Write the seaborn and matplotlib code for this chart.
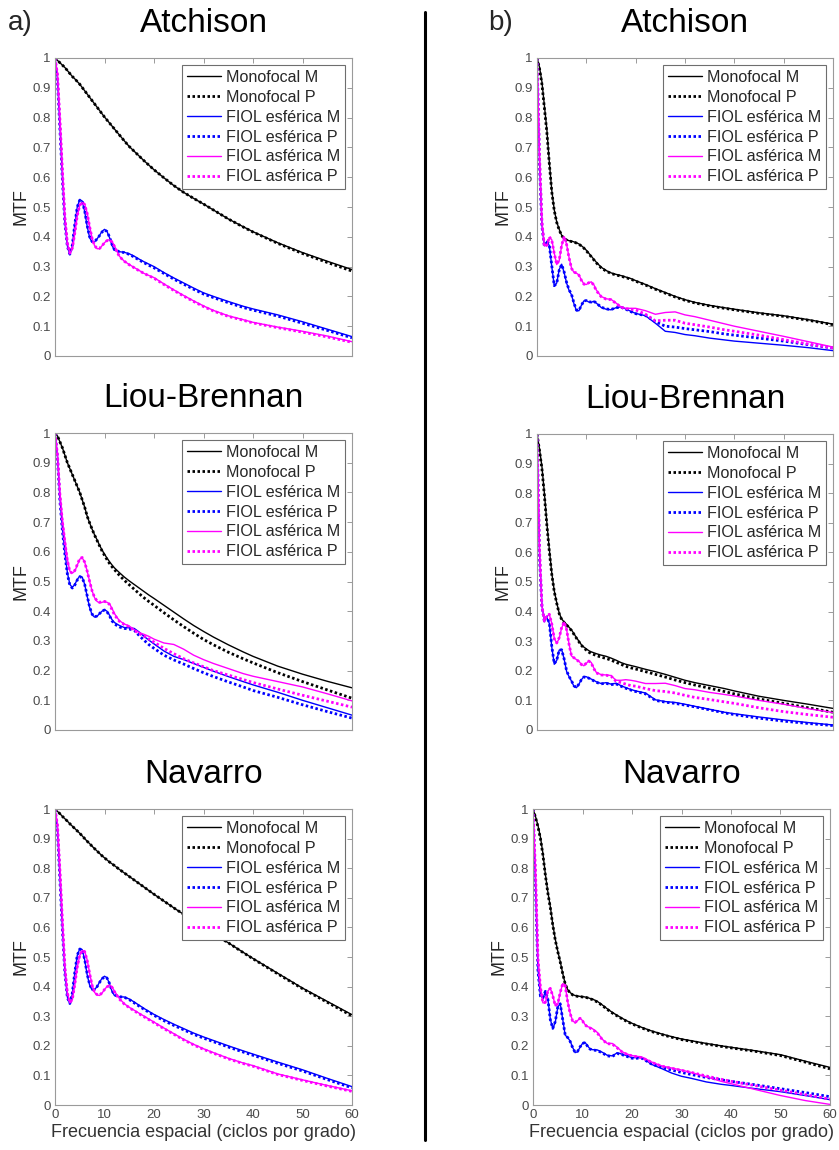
import numpy as np
import matplotlib
matplotlib.use("Agg")
import matplotlib.pyplot as plt
from matplotlib.lines import Line2D
from matplotlib.ticker import FuncFormatter
import seaborn as sns

# Spatial frequency samples (cycles per degree)
freq = [0, 0.5, 1, 1.5, 2, 2.5, 3, 3.5, 4, 4.5, 5,
        5.5, 6, 6.5, 7, 7.5, 8, 8.5, 9, 9.5, 10, 10.5, 11, 11.5,
        12, 13, 14, 15, 16, 17, 18, 19, 20,
        22, 24, 26, 28, 30, 32, 35, 38, 40, 45, 50, 55, 60]

series_labels = ["Monofocal M", "Monofocal P", "FIOL esférica M",
                 "FIOL esférica P", "FIOL asférica M", "FIOL asférica P"]

# ---------------- a) Atchison ----------------
atch_a_mono_m = [1.000, 0.992, 0.984, 0.976, 0.968, 0.958, 0.948, 0.938, 0.930, 0.921, 0.912,
                 0.901, 0.890, 0.879, 0.868, 0.857, 0.846, 0.835, 0.824, 0.813, 0.802, 0.792, 0.782, 0.772,
                 0.762, 0.742, 0.722, 0.703, 0.687, 0.671, 0.655, 0.640, 0.625,
                 0.598, 0.572, 0.549, 0.529, 0.510, 0.490, 0.460, 0.434, 0.417, 0.380, 0.347, 0.318, 0.290]
atch_a_mono_p = [1.000, 0.992, 0.984, 0.976, 0.968, 0.958, 0.948, 0.938, 0.930, 0.921, 0.912,
                 0.901, 0.890, 0.879, 0.868, 0.857, 0.846, 0.835, 0.824, 0.813, 0.802, 0.792, 0.782, 0.772,
                 0.762, 0.742, 0.722, 0.703, 0.687, 0.671, 0.655, 0.640, 0.625,
                 0.598, 0.572, 0.549, 0.529, 0.510, 0.490, 0.460, 0.433, 0.416, 0.378, 0.344, 0.314, 0.285]
atch_a_esf_m = [1.000, 0.930, 0.770, 0.600, 0.450, 0.370, 0.340, 0.370, 0.440, 0.500, 0.525,
                0.520, 0.485, 0.435, 0.397, 0.382, 0.383, 0.393, 0.405, 0.418, 0.425, 0.418, 0.398, 0.372,
                0.355, 0.350, 0.348, 0.343, 0.335, 0.325, 0.316, 0.308, 0.300,
                0.280, 0.262, 0.245, 0.228, 0.212, 0.200, 0.183, 0.167, 0.158, 0.138, 0.115, 0.090, 0.065]
atch_a_esf_p = [1.000, 0.925, 0.760, 0.590, 0.445, 0.368, 0.342, 0.372, 0.442, 0.500, 0.523,
                0.520, 0.487, 0.438, 0.400, 0.384, 0.384, 0.393, 0.404, 0.416, 0.423, 0.418, 0.400, 0.375,
                0.357, 0.350, 0.347, 0.341, 0.332, 0.322, 0.313, 0.304, 0.296,
                0.277, 0.258, 0.241, 0.224, 0.208, 0.196, 0.179, 0.163, 0.154, 0.134, 0.110, 0.086, 0.061]
atch_a_asf_m = [1.000, 0.950, 0.800, 0.630, 0.470, 0.380, 0.345, 0.360, 0.410, 0.470, 0.505,
                0.515, 0.510, 0.480, 0.435, 0.395, 0.370, 0.360, 0.360, 0.370, 0.380, 0.388, 0.390, 0.385,
                0.370, 0.335, 0.318, 0.307, 0.297, 0.287, 0.277, 0.270, 0.263,
                0.242, 0.222, 0.203, 0.185, 0.168, 0.153, 0.135, 0.122, 0.113, 0.097, 0.083, 0.067, 0.048]
atch_a_asf_p = [1.000, 0.945, 0.790, 0.620, 0.465, 0.378, 0.345, 0.362, 0.413, 0.472, 0.506,
                0.515, 0.508, 0.478, 0.433, 0.394, 0.370, 0.361, 0.361, 0.370, 0.380, 0.387, 0.389, 0.383,
                0.368, 0.334, 0.318, 0.306, 0.296, 0.286, 0.277, 0.269, 0.261,
                0.240, 0.220, 0.201, 0.183, 0.166, 0.151, 0.133, 0.120, 0.111, 0.095, 0.080, 0.064, 0.046]

# ---------------- a) Liou-Brennan ----------------
lb_a_mono_m = [1.000, 0.990, 0.970, 0.950, 0.925, 0.900, 0.880, 0.860, 0.840, 0.820, 0.800,
               0.775, 0.750, 0.720, 0.697, 0.676, 0.657, 0.640, 0.622, 0.606, 0.592, 0.579, 0.567, 0.556,
               0.546, 0.530, 0.515, 0.502, 0.490, 0.478, 0.466, 0.454, 0.443,
               0.420, 0.397, 0.374, 0.352, 0.332, 0.313, 0.287, 0.263, 0.248, 0.215, 0.188, 0.164, 0.142]
lb_a_mono_p = [1.000, 0.990, 0.970, 0.950, 0.925, 0.900, 0.880, 0.860, 0.840, 0.820, 0.800,
               0.775, 0.750, 0.720, 0.697, 0.676, 0.656, 0.638, 0.620, 0.603, 0.588, 0.574, 0.561, 0.550,
               0.540, 0.521, 0.504, 0.489, 0.474, 0.459, 0.445, 0.432, 0.420,
               0.395, 0.371, 0.348, 0.326, 0.305, 0.287, 0.262, 0.240, 0.226, 0.193, 0.163, 0.135, 0.107]
lb_a_esf_m = [1.000, 0.920, 0.780, 0.680, 0.600, 0.530, 0.490, 0.480, 0.490, 0.507, 0.518,
              0.515, 0.490, 0.450, 0.412, 0.388, 0.380, 0.383, 0.392, 0.400, 0.405, 0.400, 0.387, 0.372,
              0.362, 0.352, 0.345, 0.344, 0.342, 0.330, 0.315, 0.302, 0.290,
              0.266, 0.248, 0.237, 0.224, 0.211, 0.198, 0.180, 0.163, 0.152, 0.127, 0.100, 0.075, 0.050]
lb_a_esf_p = [1.000, 0.915, 0.770, 0.670, 0.592, 0.525, 0.487, 0.478, 0.488, 0.505, 0.516,
              0.513, 0.490, 0.452, 0.414, 0.390, 0.381, 0.384, 0.392, 0.400, 0.404, 0.398, 0.385, 0.368,
              0.357, 0.347, 0.342, 0.340, 0.336, 0.318, 0.302, 0.287, 0.275,
              0.252, 0.236, 0.222, 0.207, 0.193, 0.180, 0.162, 0.145, 0.133, 0.110, 0.085, 0.062, 0.040]
lb_a_asf_m = [1.000, 0.930, 0.800, 0.710, 0.640, 0.575, 0.535, 0.528, 0.535, 0.555, 0.575,
              0.580, 0.565, 0.535, 0.500, 0.468, 0.445, 0.433, 0.428, 0.430, 0.432, 0.430, 0.425, 0.410,
              0.392, 0.368, 0.357, 0.350, 0.338, 0.328, 0.322, 0.315, 0.306,
              0.293, 0.288, 0.272, 0.252, 0.237, 0.224, 0.207, 0.190, 0.181, 0.163, 0.145, 0.122, 0.098]
lb_a_asf_p = [1.000, 0.925, 0.790, 0.700, 0.632, 0.570, 0.533, 0.528, 0.537, 0.557, 0.577,
              0.581, 0.565, 0.535, 0.500, 0.468, 0.446, 0.435, 0.430, 0.432, 0.433, 0.430, 0.423, 0.406,
              0.388, 0.366, 0.355, 0.348, 0.335, 0.325, 0.316, 0.306, 0.296,
              0.275, 0.257, 0.240, 0.226, 0.213, 0.200, 0.185, 0.170, 0.160, 0.138, 0.117, 0.097, 0.077]

# ---------------- a) Navarro ----------------
nav_a_mono_m = [1.000, 0.992, 0.984, 0.975, 0.967, 0.959, 0.950, 0.942, 0.934, 0.926, 0.918,
                0.909, 0.900, 0.891, 0.883, 0.874, 0.866, 0.858, 0.850, 0.842, 0.835, 0.828, 0.821, 0.815,
                0.809, 0.796, 0.784, 0.772, 0.760, 0.748, 0.736, 0.724, 0.712,
                0.689, 0.666, 0.644, 0.622, 0.600, 0.579, 0.548, 0.516, 0.495, 0.445, 0.395, 0.350, 0.305]
nav_a_mono_p = [1.000, 0.992, 0.984, 0.975, 0.967, 0.959, 0.950, 0.942, 0.934, 0.926, 0.918,
                0.909, 0.900, 0.891, 0.883, 0.874, 0.866, 0.858, 0.850, 0.842, 0.835, 0.828, 0.821, 0.815,
                0.809, 0.796, 0.784, 0.772, 0.760, 0.748, 0.736, 0.724, 0.712,
                0.689, 0.666, 0.644, 0.622, 0.600, 0.579, 0.548, 0.515, 0.494, 0.443, 0.393, 0.347, 0.301]
nav_a_esf_m = [1.000, 0.930, 0.770, 0.600, 0.450, 0.365, 0.342, 0.375, 0.445, 0.505, 0.528,
               0.525, 0.490, 0.440, 0.405, 0.388, 0.390, 0.400, 0.415, 0.428, 0.435, 0.430, 0.410, 0.385,
               0.370, 0.365, 0.365, 0.358, 0.348, 0.337, 0.326, 0.316, 0.306,
               0.289, 0.273, 0.258, 0.243, 0.230, 0.218, 0.200, 0.183, 0.172, 0.145, 0.119, 0.090, 0.062]
nav_a_esf_p = [1.000, 0.925, 0.760, 0.590, 0.445, 0.363, 0.343, 0.378, 0.448, 0.506, 0.527,
               0.524, 0.492, 0.443, 0.407, 0.390, 0.391, 0.400, 0.414, 0.426, 0.433, 0.429, 0.411, 0.387,
               0.372, 0.366, 0.364, 0.356, 0.345, 0.334, 0.323, 0.313, 0.303,
               0.285, 0.269, 0.254, 0.239, 0.226, 0.214, 0.196, 0.179, 0.168, 0.141, 0.115, 0.086, 0.058]
nav_a_asf_m = [1.000, 0.950, 0.800, 0.630, 0.470, 0.380, 0.345, 0.355, 0.405, 0.465, 0.505,
               0.522, 0.520, 0.490, 0.445, 0.405, 0.380, 0.372, 0.370, 0.378, 0.390, 0.400, 0.405, 0.400,
               0.385, 0.360, 0.342, 0.330, 0.320, 0.310, 0.300, 0.290, 0.280,
               0.260, 0.241, 0.222, 0.205, 0.190, 0.177, 0.158, 0.142, 0.133, 0.105, 0.085, 0.066, 0.048]
nav_a_asf_p = [1.000, 0.945, 0.790, 0.620, 0.465, 0.378, 0.346, 0.357, 0.408, 0.467, 0.506,
               0.522, 0.518, 0.488, 0.443, 0.404, 0.380, 0.373, 0.371, 0.379, 0.390, 0.399, 0.403, 0.398,
               0.383, 0.358, 0.341, 0.329, 0.318, 0.308, 0.298, 0.288, 0.278,
               0.258, 0.239, 0.220, 0.203, 0.188, 0.175, 0.156, 0.140, 0.131, 0.103, 0.083, 0.064, 0.046]

# ---------------- b) Atchison ----------------
atch_b_mono_m = [1.000, 0.970, 0.920, 0.840, 0.760, 0.650, 0.555, 0.490, 0.450, 0.425, 0.405,
                 0.395, 0.390, 0.387, 0.385, 0.383, 0.380, 0.376, 0.370, 0.363, 0.355, 0.345, 0.335, 0.325,
                 0.315, 0.298, 0.287, 0.279, 0.274, 0.270, 0.265, 0.260, 0.253,
                 0.240, 0.226, 0.213, 0.200, 0.189, 0.180, 0.170, 0.162, 0.157, 0.145, 0.135, 0.122, 0.107]
atch_b_mono_p = [1.000, 0.965, 0.912, 0.832, 0.750, 0.645, 0.550, 0.488, 0.448, 0.423, 0.404,
                 0.394, 0.389, 0.386, 0.384, 0.382, 0.379, 0.375, 0.369, 0.362, 0.353, 0.343, 0.333, 0.323,
                 0.313, 0.296, 0.285, 0.277, 0.272, 0.268, 0.263, 0.258, 0.251,
                 0.238, 0.224, 0.211, 0.198, 0.187, 0.178, 0.168, 0.160, 0.155, 0.143, 0.133, 0.120, 0.105]
atch_b_esf_m = [1.000, 0.660, 0.440, 0.370, 0.385, 0.370, 0.300, 0.235, 0.245, 0.290, 0.308,
                0.280, 0.245, 0.220, 0.205, 0.175, 0.152, 0.152, 0.170, 0.185, 0.186, 0.181, 0.180, 0.184,
                0.178, 0.163, 0.157, 0.155, 0.162, 0.165, 0.158, 0.150, 0.143,
                0.135, 0.110, 0.083, 0.079, 0.072, 0.068, 0.060, 0.054, 0.050, 0.043, 0.036, 0.028, 0.018]
atch_b_esf_p = [1.000, 0.650, 0.435, 0.368, 0.386, 0.372, 0.302, 0.236, 0.244, 0.288, 0.307,
                0.282, 0.247, 0.222, 0.207, 0.177, 0.154, 0.153, 0.170, 0.185, 0.186, 0.182, 0.181, 0.184,
                0.178, 0.164, 0.158, 0.156, 0.162, 0.164, 0.157, 0.149, 0.142,
                0.136, 0.115, 0.100, 0.097, 0.092, 0.088, 0.082, 0.074, 0.070, 0.060, 0.050, 0.038, 0.027]
atch_b_asf_m = [1.000, 0.680, 0.450, 0.370, 0.370, 0.398, 0.390, 0.345, 0.307, 0.320, 0.370,
                0.400, 0.375, 0.330, 0.295, 0.280, 0.278, 0.272, 0.255, 0.242, 0.240, 0.245, 0.249, 0.240,
                0.222, 0.200, 0.192, 0.190, 0.178, 0.165, 0.160, 0.160, 0.160,
                0.152, 0.140, 0.146, 0.148, 0.138, 0.132, 0.120, 0.108, 0.100, 0.083, 0.066, 0.048, 0.030]
atch_b_asf_p = [1.000, 0.675, 0.448, 0.368, 0.372, 0.400, 0.388, 0.343, 0.308, 0.322, 0.372,
                0.401, 0.374, 0.329, 0.294, 0.281, 0.279, 0.271, 0.254, 0.241, 0.241, 0.246, 0.248, 0.238,
                0.220, 0.199, 0.191, 0.189, 0.177, 0.164, 0.159, 0.157, 0.155,
                0.140, 0.118, 0.120, 0.120, 0.110, 0.105, 0.097, 0.088, 0.083, 0.070, 0.055, 0.040, 0.027]

# ---------------- b) Liou-Brennan ----------------
lb_b_mono_m = [1.000, 0.950, 0.890, 0.800, 0.700, 0.610, 0.530, 0.470, 0.430, 0.395, 0.375,
               0.365, 0.357, 0.347, 0.338, 0.325, 0.312, 0.300, 0.288, 0.280, 0.274, 0.268, 0.264, 0.261,
               0.258, 0.253, 0.249, 0.243, 0.236, 0.228, 0.222, 0.218, 0.214,
               0.205, 0.197, 0.188, 0.178, 0.168, 0.160, 0.150, 0.140, 0.132, 0.114, 0.100, 0.087, 0.073]
lb_b_mono_p = [1.000, 0.945, 0.882, 0.792, 0.692, 0.603, 0.525, 0.467, 0.428, 0.393, 0.373,
               0.363, 0.355, 0.345, 0.336, 0.323, 0.310, 0.298, 0.286, 0.277, 0.270, 0.263, 0.258, 0.255,
               0.252, 0.246, 0.242, 0.236, 0.229, 0.222, 0.215, 0.210, 0.206,
               0.197, 0.188, 0.179, 0.169, 0.160, 0.152, 0.141, 0.130, 0.122, 0.105, 0.090, 0.075, 0.060]
lb_b_esf_m = [1.000, 0.600, 0.420, 0.370, 0.380, 0.360, 0.280, 0.222, 0.235, 0.270, 0.272,
              0.240, 0.198, 0.180, 0.165, 0.147, 0.143, 0.155, 0.170, 0.180, 0.180, 0.176, 0.172, 0.168,
              0.163, 0.157, 0.160, 0.155, 0.158, 0.150, 0.143, 0.137, 0.132,
              0.125, 0.102, 0.096, 0.093, 0.087, 0.080, 0.070, 0.060, 0.055, 0.044, 0.034, 0.025, 0.017]
lb_b_esf_p = [1.000, 0.590, 0.415, 0.368, 0.382, 0.362, 0.282, 0.224, 0.236, 0.270, 0.271,
              0.240, 0.200, 0.181, 0.166, 0.149, 0.144, 0.155, 0.170, 0.179, 0.179, 0.175, 0.171, 0.166,
              0.161, 0.156, 0.158, 0.153, 0.156, 0.148, 0.141, 0.135, 0.130,
              0.122, 0.100, 0.094, 0.090, 0.084, 0.078, 0.068, 0.058, 0.052, 0.040, 0.030, 0.022, 0.015]
lb_b_asf_m = [1.000, 0.620, 0.420, 0.370, 0.385, 0.390, 0.360, 0.310, 0.293, 0.310, 0.345,
              0.364, 0.340, 0.290, 0.250, 0.243, 0.238, 0.232, 0.222, 0.217, 0.225, 0.234, 0.228, 0.210,
              0.195, 0.187, 0.186, 0.184, 0.168, 0.168, 0.170, 0.168, 0.165,
              0.157, 0.157, 0.158, 0.150, 0.140, 0.136, 0.127, 0.120, 0.115, 0.100, 0.087, 0.072, 0.059]
lb_b_asf_p = [1.000, 0.615, 0.418, 0.368, 0.386, 0.391, 0.358, 0.308, 0.294, 0.312, 0.347,
              0.365, 0.339, 0.289, 0.250, 0.244, 0.238, 0.231, 0.221, 0.218, 0.226, 0.233, 0.226, 0.208,
              0.193, 0.186, 0.185, 0.182, 0.165, 0.160, 0.155, 0.150, 0.148,
              0.140, 0.133, 0.130, 0.125, 0.117, 0.110, 0.103, 0.095, 0.090, 0.075, 0.062, 0.052, 0.043]

# ---------------- b) Navarro ----------------
nav_b_mono_m = [1.000, 0.975, 0.945, 0.905, 0.850, 0.780, 0.720, 0.670, 0.610, 0.560, 0.520,
                0.485, 0.445, 0.410, 0.390, 0.380, 0.373, 0.370, 0.368, 0.367, 0.366, 0.365, 0.363, 0.360,
                0.358, 0.350, 0.338, 0.325, 0.313, 0.303, 0.293, 0.284, 0.276,
                0.262, 0.250, 0.240, 0.231, 0.223, 0.217, 0.208, 0.200, 0.195, 0.183, 0.170, 0.148, 0.127]
nav_b_mono_p = [1.000, 0.972, 0.940, 0.900, 0.845, 0.776, 0.716, 0.666, 0.607, 0.557, 0.518,
                0.483, 0.444, 0.409, 0.389, 0.379, 0.372, 0.369, 0.367, 0.366, 0.365, 0.364, 0.362, 0.359,
                0.356, 0.348, 0.336, 0.323, 0.311, 0.301, 0.291, 0.282, 0.274,
                0.260, 0.248, 0.238, 0.229, 0.221, 0.215, 0.206, 0.198, 0.193, 0.181, 0.167, 0.145, 0.122]
nav_b_esf_m = [1.000, 0.750, 0.460, 0.370, 0.360, 0.383, 0.360, 0.290, 0.258, 0.280, 0.330,
               0.343, 0.290, 0.236, 0.228, 0.216, 0.195, 0.177, 0.180, 0.195, 0.208, 0.212, 0.200, 0.190,
               0.187, 0.186, 0.178, 0.168, 0.166, 0.176, 0.172, 0.166, 0.160,
               0.160, 0.137, 0.123, 0.108, 0.097, 0.090, 0.078, 0.070, 0.066, 0.055, 0.045, 0.032, 0.018]
nav_b_esf_p = [1.000, 0.740, 0.455, 0.368, 0.362, 0.384, 0.358, 0.288, 0.259, 0.282, 0.331,
               0.342, 0.289, 0.237, 0.228, 0.215, 0.194, 0.178, 0.181, 0.196, 0.208, 0.211, 0.199, 0.189,
               0.186, 0.184, 0.176, 0.166, 0.164, 0.174, 0.170, 0.164, 0.158,
               0.158, 0.138, 0.127, 0.118, 0.110, 0.103, 0.093, 0.085, 0.080, 0.068, 0.055, 0.042, 0.028]
nav_b_asf_m = [1.000, 0.800, 0.500, 0.400, 0.345, 0.345, 0.385, 0.395, 0.370, 0.335, 0.340,
               0.380, 0.410, 0.405, 0.350, 0.310, 0.285, 0.278, 0.285, 0.294, 0.285, 0.272, 0.265, 0.262,
               0.258, 0.245, 0.222, 0.208, 0.208, 0.195, 0.180, 0.172, 0.167,
               0.162, 0.145, 0.132, 0.125, 0.118, 0.110, 0.095, 0.080, 0.072, 0.052, 0.032, 0.015, 0.002]
nav_b_asf_p = [1.000, 0.790, 0.495, 0.398, 0.346, 0.347, 0.386, 0.394, 0.368, 0.336, 0.342,
               0.381, 0.409, 0.403, 0.349, 0.309, 0.284, 0.279, 0.286, 0.293, 0.284, 0.271, 0.264, 0.260,
               0.256, 0.243, 0.221, 0.207, 0.206, 0.193, 0.179, 0.171, 0.166,
               0.160, 0.144, 0.131, 0.124, 0.117, 0.110, 0.098, 0.087, 0.080, 0.065, 0.050, 0.035, 0.020]

panels = [
    # (title, pixel box [left, top, right, bottom], curves, bottom row?)
    ("Atchison", (55, 58, 352, 356),
     [atch_a_mono_m, atch_a_mono_p, atch_a_esf_m, atch_a_esf_p, atch_a_asf_m, atch_a_asf_p], False),
    ("Liou-Brennan", (55, 433, 352, 730),
     [lb_a_mono_m, lb_a_mono_p, lb_a_esf_m, lb_a_esf_p, lb_a_asf_m, lb_a_asf_p], False),
    ("Navarro", (55, 809, 352, 1105),
     [nav_a_mono_m, nav_a_mono_p, nav_a_esf_m, nav_a_esf_p, nav_a_asf_m, nav_a_asf_p], True),
    ("Atchison", (537, 58, 833, 356),
     [atch_b_mono_m, atch_b_mono_p, atch_b_esf_m, atch_b_esf_p, atch_b_asf_m, atch_b_asf_p], False),
    ("Liou-Brennan", (537, 434, 833, 730),
     [lb_b_mono_m, lb_b_mono_p, lb_b_esf_m, lb_b_esf_p, lb_b_asf_m, lb_b_asf_p], False),
    ("Navarro", (533, 809, 830, 1105),
     [nav_b_mono_m, nav_b_mono_p, nav_b_esf_m, nav_b_esf_p, nav_b_asf_m, nav_b_asf_p], True),
]

for _, _, curves, _ in panels:
    for c in curves:
        assert len(c) == len(freq), len(c)

colors = ["#000000", "#000000", "#0000ff", "#0000ff", "#ff00ff", "#ff00ff"]
dotted = (0, (0.9, 0.9))
styles = ["-", dotted, "-", dotted, "-", dotted]
widths = [1.0, 2.0, 1.0, 2.0, 1.0, 2.0]

sns.set_theme(style="white")
plt.rcParams["font.family"] = ["Liberation Sans", "DejaVu Sans"]

W, H = 839, 1150
fig = plt.figure(figsize=(W / 100, H / 100), dpi=100)

spine_col = "#9a9a9a"
tick_txt = "#4a4a4a"

for title, (x0, y0, x1, y1), curves, bottom in panels:
    ax = fig.add_axes([x0 / W, 1 - y1 / H, (x1 - x0) / W, (y1 - y0) / H])
    for vals, lab, col, ls, lw in zip(curves, series_labels, colors, styles, widths):
        sns.lineplot(x=freq, y=vals, ax=ax, color=col, linestyle=ls,
                     linewidth=lw, label=lab, errorbar=None, sort=False)
    ax.set_xlim(0, 60)
    ax.set_ylim(0, 1)
    ax.set_xticks(range(0, 61, 10))
    ax.set_yticks(np.round(np.arange(0, 1.01, 0.1), 1))
    ax.yaxis.set_major_formatter(FuncFormatter(lambda v, p: f"{v:g}"))
    ax.tick_params(direction="in", top=True, right=True, length=3.5, width=0.7,
                   color=spine_col, labelsize=9.5, labelcolor=tick_txt, pad=3)
    for sp in ax.spines.values():
        sp.set_color(spine_col)
        sp.set_linewidth(0.8)
    ax.set_title(title, fontsize=24, pad=19, color="black")
    ax.set_ylabel("MTF", fontsize=13, color="#262626", labelpad=2)
    if bottom:
        ax.set_xlabel("Frecuencia espacial (ciclos por grado)", fontsize=13,
                      color="#333333", labelpad=2)
    else:
        ax.tick_params(labelbottom=False)
        ax.set_xlabel("")
    handles = ax.get_lines()[:6]
    leg = ax.legend(handles, series_labels, loc="upper right", fontsize=11.6,
                    frameon=True, fancybox=False, framealpha=1,
                    edgecolor="#6e6e6e", borderpad=0.3, labelspacing=0.3,
                    handlelength=2.1, handletextpad=0.3, borderaxespad=0.45)
    leg.get_frame().set_linewidth(0.8)

# panel tags and the separator between the two columns
fig.text(8 / W, 1 - 30 / H, "a)", fontsize=20, va="baseline", ha="left")
fig.text(488 / W, 1 - 30 / H, "b)", fontsize=20, va="baseline", ha="left")
fig.add_artist(Line2D([425 / W, 425 / W], [1 - 12 / H, 1 - 1140 / H],
                      color="black", linewidth=2.2))

fig.savefig("out.png", dpi=100)
